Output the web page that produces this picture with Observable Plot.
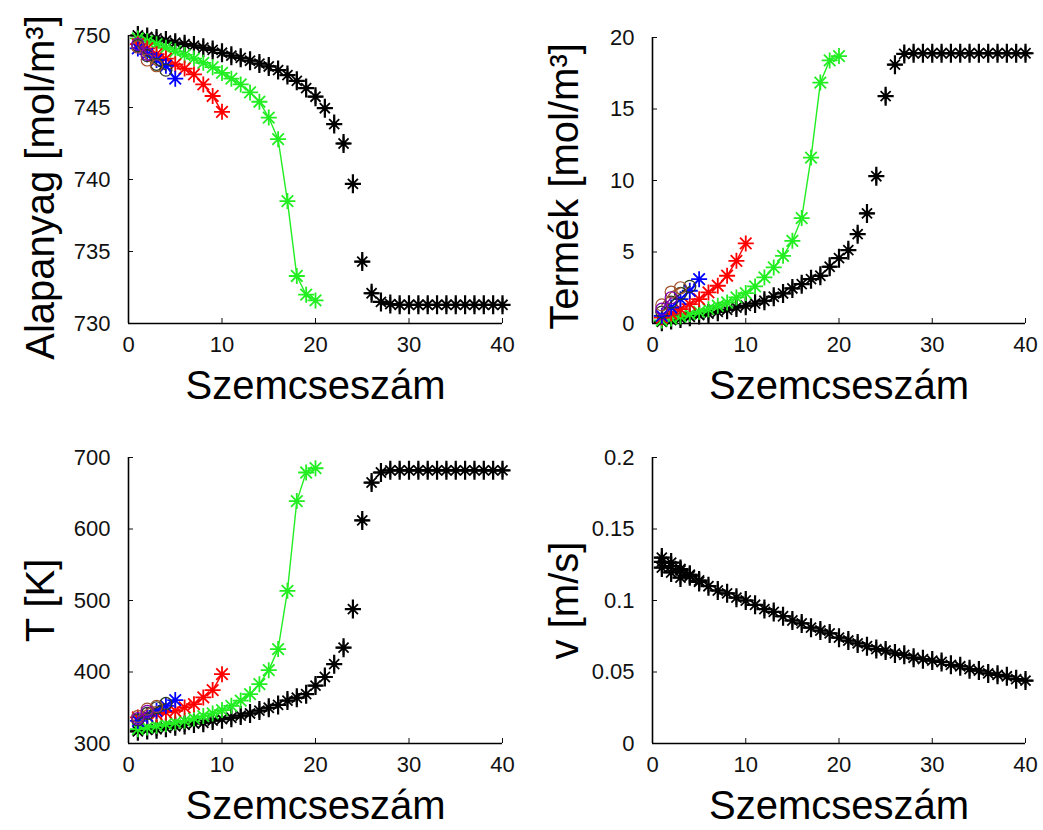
<!DOCTYPE html>
<html><head><meta charset="utf-8">
<script src="https://cdn.jsdelivr.net/npm/d3@7"></script>
<script src="https://cdn.jsdelivr.net/npm/@observablehq/plot@0.6"></script>
<style>
body{margin:0;background:#fff;}
#fig{position:relative;width:1043px;height:830px;background:#fff;}
#fig svg{position:absolute;overflow:visible;background:transparent;}
</style></head><body><div id="fig"></div>
<script>
// ---- data (x = particle index "Szemcseszám") ----
const xK = [1,2,3,4,5,6,7,8,9,10,11,12,13,14,15,16,17,18,19,20,21,22,23,24,25,26,27,28,29,30,31,32,33,34,35,36,37,38,39,40];
const xG = [1,2,3,4,5,6,7,8,9,10,11,12,13,14,15,16,17,18,19,20];
const xR = [1,2,3,4,5,6,7,8,9,10];
const xB = [1,2,3,4,5];
const xM = [1,2];
const xN = [1,2,3];
const xD = [1,2,3,4];

// Alapanyag [mol/m3]
const alapK = [750.0,749.9,749.8,749.65,749.5,749.4,749.3,749.15,749.0,748.8,748.6,748.45,748.25,748.05,747.85,747.6,747.25,746.85,746.35,745.75,744.95,743.85,742.5,739.7,734.3,732.1,731.5,731.35,731.3,731.3,731.3,731.3,731.3,731.3,731.3,731.3,731.3,731.3,731.3,731.3];
const alapG = [749.8,749.6,749.4,749.15,748.9,748.65,748.4,748.1,747.8,747.4,747.0,746.6,746.05,745.4,744.3,742.8,738.5,733.3,732.0,731.6];
const alapR = [749.4,749.1,748.7,748.4,748.0,747.7,747.3,746.6,745.8,744.7];
const alapB = [749.1,748.7,748.3,747.9,747.0];
const alapM = [749.4,748.7];
const alapN = [749.2,748.3,747.9];
const alapD = [749.3,748.6,748.0,747.6];

// Termék [mol/m3]
const termK = [0.12,0.24,0.35,0.47,0.59,0.7,0.82,0.96,1.12,1.24,1.4,1.59,1.87,2.1,2.45,2.75,3.1,3.34,3.97,4.57,5.13,6.25,7.7,10.3,15.9,18.1,18.85,18.9,18.9,18.9,18.9,18.9,18.9,18.9,18.9,18.9,18.9,18.9,18.9,18.9];
const termG = [0.21,0.35,0.49,0.66,0.82,1.0,1.24,1.47,1.82,2.13,2.59,3.22,3.92,4.73,5.78,7.37,11.6,16.85,18.4,18.7];
const termR = [0.42,0.7,1.0,1.36,1.7,2.17,2.64,3.34,4.38,5.6];
const termB = [0.54,1.12,1.7,2.29,3.1];
const termM = [1.0,1.8];
const termN = [1.3,2.2,2.5];
const termD = [0.8,1.5,2.1,2.6];

// T [K]
const tempK = [317,319,320,322,324,326,328,329,332,334,336,339,342,346,350,354,360,364,369,381,393,411,434,488,612,665,679,682,682,682,682,682,682,682,682,682,682,682,682,682];
const tempG = [320,322.4,324.8,327,329.4,331.7,335,338.3,342,346.7,352.7,360,369,383,402.6,432,513.6,639,679,685];
const tempR = [336.4,338.7,341,343.4,345.7,350.4,355,364.4,374.7,397];
const tempB = [331.7,338.7,345.7,352.7,360.7];
const tempM = [335,345];
const tempN = [338,348,352];
const tempD = [333,342,350,356];

// v [m/s]
const velK = [0.127,0.124,0.121,0.117,0.113,0.110,0.107,0.105,0.102,0.100,0.097,0.094,0.092,0.089,0.086,0.084,0.081,0.079,0.077,0.074,0.072,0.070,0.068,0.066,0.065,0.063,0.062,0.060,0.059,0.058,0.057,0.055,0.054,0.052,0.051,0.049,0.048,0.047,0.045,0.044];
const velK2 = [0.130,0.1265,0.122,0.118,0.114];
const velK3 = [0.123,0.1196,0.116];

const xTicks = [0,10,20,30,40];
const alapTicks = [730,735,740,745,750];
const termTicks = [0,5,10,15,20];
const tempTicks = [300,400,500,600,700];
const velTicks = [0,0.05,0.1,0.15,0.2];

const xLabel = "Szemcseszám";
const FONT = "'Liberation Sans', Arial, Helvetica, sans-serif";

// ---- marker shapes (MATLAB-like '*' and '+') ----
const starSym = {draw(ctx, size){ const r = Math.sqrt(size/Math.PI); const d = r*0.72;
  ctx.moveTo(-r,0); ctx.lineTo(r,0); ctx.moveTo(0,-r); ctx.lineTo(0,r);
  ctx.moveTo(-d,-d); ctx.lineTo(d,d); ctx.moveTo(-d,d); ctx.lineTo(d,-d); }};
const plusSym = {draw(ctx, size){ const r = Math.sqrt(size/Math.PI);
  ctx.moveTo(-r*0.85,0); ctx.lineTo(r*0.85,0); ctx.moveTo(0,-r); ctx.lineTo(0,r); }};

const rows = (xs, ys) => xs.map((x,i) => ({x, y: ys[i]}));

function seriesMarks(list){
  const marks = [];
  for (const s of list){
    const data = rows(s.x, s.y);
    if (s.line) marks.push(Plot.line(data, {x:"x", y:"y", stroke:s.color, strokeWidth:1.4}));
    if (s.kind === "black"){
      marks.push(Plot.dot(data, {x:"x", y:"y", symbol:plusSym, r:9.5, stroke:"#000", fill:"none", strokeWidth:2.2}));
      marks.push(Plot.dot(data, {x:"x", y:"y", symbol:starSym, r:7, stroke:"#000", fill:"none", strokeWidth:1.8}));
      marks.push(Plot.dot(data, {x:"x", y:"y", r:2.6, fill:"#000", stroke:"none"}));
    } else if (s.kind === "circle"){
      marks.push(Plot.dot(data, {x:"x", y:"y", symbol:"circle", r:6, stroke:s.color, fill:"none", strokeWidth:1.2}));
    } else {
      marks.push(Plot.dot(data, {x:"x", y:"y", symbol:starSym, r:8, stroke:s.color, fill:"none", strokeWidth:1.8}));
    }
  }
  return marks;
}

function panel(cfg){
  const marks = [
    Plot.ruleX([0], {stroke:"#000", strokeWidth:1.6}),
    Plot.ruleY([cfg.yDomain[0]], {stroke:"#000", strokeWidth:1.6}),
    ...seriesMarks(cfg.series),
    Plot.text([xLabel], {frameAnchor:"bottom", dy:63, fontSize:40, fill:"#000", textAnchor:"middle", lineAnchor:"middle"}),
    Plot.text([cfg.yLabel], {frameAnchor:"left", dx:-87, dy:cfg.yLabelDy, rotate:-90, fontSize:40, fill:"#000", textAnchor:"middle", lineAnchor:"middle"})
  ];
  const svg = Plot.plot({
    width: cfg.w, height: cfg.h,
    marginLeft: cfg.m[0], marginRight: cfg.m[1], marginTop: cfg.m[2], marginBottom: cfg.m[3],
    x: {domain:[0,40], ticks:xTicks, tickSize:-5, tickPadding:18, label:null, tickFormat: d => String(d)},
    y: {domain: cfg.yDomain, ticks: cfg.yTicks, tickSize:-5, tickPadding:23, label:null, tickFormat: d => String(d)},
    style: {fontFamily: FONT, fontSize:"22px", color:"#111", background:"transparent", overflow:"visible"},
    marks
  });
  svg.style.left = cfg.left + "px";
  svg.style.top = cfg.top + "px";
  document.getElementById("fig").appendChild(svg);
}

panel({left:0, top:0, w:521, h:415, m:[128,19,35,92], yDomain:[730,750], yTicks:alapTicks,
  yLabel:"Alapanyag [mol/m³]", yLabelDy:8,
  series:[
    {x:xK, y:alapK, kind:"black"},
    {x:xG, y:alapG, color:"#22ee22", line:true},
    {x:xR, y:alapR, color:"#ff0000", line:true},
    {x:xB, y:alapB, color:"#0000ff", line:true},
    {x:xD, y:alapD, color:"#2a3a20", kind:"circle", line:true},
    {x:xN, y:alapN, color:"#a0522d", kind:"circle", line:true},
    {x:xM, y:alapM, color:"#8000b0", kind:"circle", line:true}
  ]});

panel({left:521, top:0, w:522, h:415, m:[131,18,37,92], yDomain:[0,20], yTicks:termTicks,
  yLabel:"Termék [mol/m³]", yLabelDy:6,
  series:[
    {x:xK, y:termK, kind:"black"},
    {x:xG, y:termG, color:"#22ee22", line:true},
    {x:xR, y:termR, color:"#ff0000", line:true},
    {x:xB, y:termB, color:"#0000ff", line:true},
    {x:xD, y:termD, color:"#2a3a20", kind:"circle", line:true},
    {x:xN, y:termN, color:"#a0522d", kind:"circle", line:true},
    {x:xM, y:termM, color:"#8000b0", kind:"circle", line:true}
  ]});

panel({left:0, top:415, w:521, h:415, m:[128,19,42,87], yDomain:[300,700], yTicks:tempTicks,
  yLabel:"T [K]", yLabelDy:0,
  series:[
    {x:xK, y:tempK, kind:"black"},
    {x:xG, y:tempG, color:"#22ee22", line:true},
    {x:xR, y:tempR, color:"#ff0000", line:true},
    {x:xB, y:tempB, color:"#0000ff", line:true},
    {x:xD, y:tempD, color:"#2a3a20", kind:"circle", line:true},
    {x:xN, y:tempN, color:"#a0522d", kind:"circle", line:true},
    {x:xM, y:tempM, color:"#8000b0", kind:"circle", line:true}
  ]});

panel({left:521, top:415, w:522, h:415, m:[131,18,42,87], yDomain:[0,0.2], yTicks:velTicks,
  yLabel:"v [m/s]", yLabelDy:0,
  series:[
    {x:xK, y:velK, kind:"black"},
    {x:xB, y:velK2, kind:"black"},
    {x:xN, y:velK3, kind:"black"}
  ]});
</script>
</body></html>
